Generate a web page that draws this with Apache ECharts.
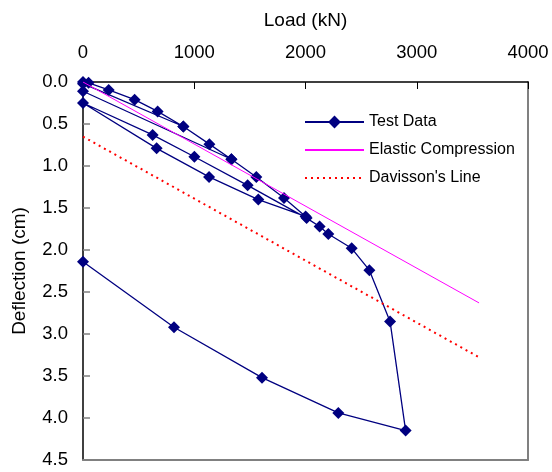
<!DOCTYPE html>
<html>
<head>
<meta charset="utf-8">
<script src="https://cdn.jsdelivr.net/npm/echarts@6/dist/echarts.min.js"></script>
<style>
html,body{margin:0;padding:0;background:#fff;}
#chart{width:552px;height:472px;}
</style>
</head>
<body>
<div id="chart"></div>
<script>
// ---- data ----
var xTicks = [0, 1000, 2000, 3000, 4000];
var yTicks = [0.0, 0.5, 1.0, 1.5, 2.0, 2.5, 3.0, 3.5, 4.0, 4.5];
var seriesNames = ["Test Data", "Elastic Compression", "Davisson's Line"];

var testLoad = [0, 50, 231, 464, 671, 902, 0, 902, 1136, 1334, 0, 1334, 1558, 1807, 2001,
                1576, 1133, 662, 0, 626, 1001, 1480, 2010, 2127, 2205, 2415, 2574, 2760, 2900,
                2295, 1609, 818, 0];
var testDefl = [0.00, 0.01, 0.095, 0.21, 0.35, 0.53, 0.02, 0.53, 0.74, 0.92, 0.11, 0.92, 1.13, 1.38, 1.60,
                1.40, 1.13, 0.79, 0.25, 0.63, 0.89, 1.23, 1.62, 1.72, 1.81, 1.98, 2.24, 2.85, 4.15,
                3.94, 3.52, 2.92, 2.14];

var elasticLoad = [0, 3560];
var elasticDefl = [0.00, 2.63];

var davissonLoad = [0, 3550];
var davissonDefl = [0.65, 3.27];

function pairs(xs, ys) { return xs.map(function (x, i) { return [x, ys[i]]; }); }

var FONT = "'Liberation Sans', Arial, sans-serif";
var chart = echarts.init(document.getElementById('chart'), null, {renderer: 'canvas'});

var option = {
  backgroundColor: '#ffffff',
  animation: false,
  textStyle: {fontFamily: FONT},
  grid: {left: 83, top: 82, width: 445, height: 378, containLabel: false},
  legend: {
    orient: 'vertical',
    left: 299, top: 109,
    itemWidth: 59, itemHeight: 16,
    itemGap: 12,
    data: [
      {name: seriesNames[0]},
      {name: seriesNames[1], itemStyle: {opacity: 0}},
      {name: seriesNames[2], itemStyle: {opacity: 0}}
    ],
    textStyle: {fontFamily: FONT, fontSize: 16, color: '#000', lineHeight: 16}
  },
  xAxis: [{
    type: 'value', position: 'top',
    min: xTicks[0], max: xTicks[xTicks.length - 1], interval: 1000,
    name: 'Load (kN)', nameLocation: 'middle', nameGap: 52,
    nameTextStyle: {fontFamily: FONT, fontSize: 19, color: '#000'},
    axisLine: {show: true, lineStyle: {color: '#000', width: 1.5}},
    axisTick: {show: true, inside: true, length: 7, lineStyle: {color: '#000', width: 1}},
    axisLabel: {margin: 20, fontFamily: FONT, fontSize: 18.5, color: '#000',
      formatter: function (v) { return String(v); }},
    splitLine: {show: false}
  }, {
    type: 'value', position: 'bottom',
    min: xTicks[0], max: xTicks[xTicks.length - 1], interval: 1000,
    axisLine: {show: true, onZero: false, lineStyle: {color: '#808080', width: 2}},
    axisTick: {show: false}, axisLabel: {show: false}, splitLine: {show: false}
  }],
  yAxis: [{
    type: 'value', inverse: true,
    min: yTicks[0], max: yTicks[yTicks.length - 1], interval: 0.5,
    name: 'Deflection (cm)', nameLocation: 'middle', nameGap: 54,
    nameTextStyle: {fontFamily: FONT, fontSize: 19, color: '#000'},
    axisLine: {show: true, lineStyle: {color: '#000', width: 1.5}},
    axisTick: {show: true, inside: true, length: 7, lineStyle: {color: '#808080', width: 1.5}},
    axisLabel: {margin: 15, fontFamily: FONT, fontSize: 18.5, color: '#000',
      formatter: function (v) { return v.toFixed(1); }},
    splitLine: {show: false}
  }, {
    type: 'value', inverse: true, position: 'right',
    min: yTicks[0], max: yTicks[yTicks.length - 1], interval: 0.5,
    axisLine: {show: true, onZero: false, lineStyle: {color: '#808080', width: 2}},
    axisTick: {show: false}, axisLabel: {show: false}, splitLine: {show: false}
  }],
  series: [{
    name: seriesNames[0], type: 'line',
    data: pairs(testLoad, testDefl),
    symbol: 'diamond', symbolSize: 12,
    itemStyle: {color: '#000080'},
    lineStyle: {color: '#000080', width: 1.3},
    z: 2
  }, {
    name: seriesNames[1], type: 'line',
    data: pairs(elasticLoad, elasticDefl),
    symbol: 'none', showSymbol: false,
    itemStyle: {color: '#FF00FF'},
    lineStyle: {color: '#FF00FF', width: 1},
    z: 3
  }, {
    name: seriesNames[2], type: 'line',
    data: pairs(davissonLoad, davissonDefl),
    symbol: 'none', showSymbol: false,
    itemStyle: {color: '#FF0000'},
    lineStyle: {color: '#FF0000', width: 2, type: [2, 4]},
    z: 3
  }]
};
chart.setOption(option);
</script>
</body>
</html>
